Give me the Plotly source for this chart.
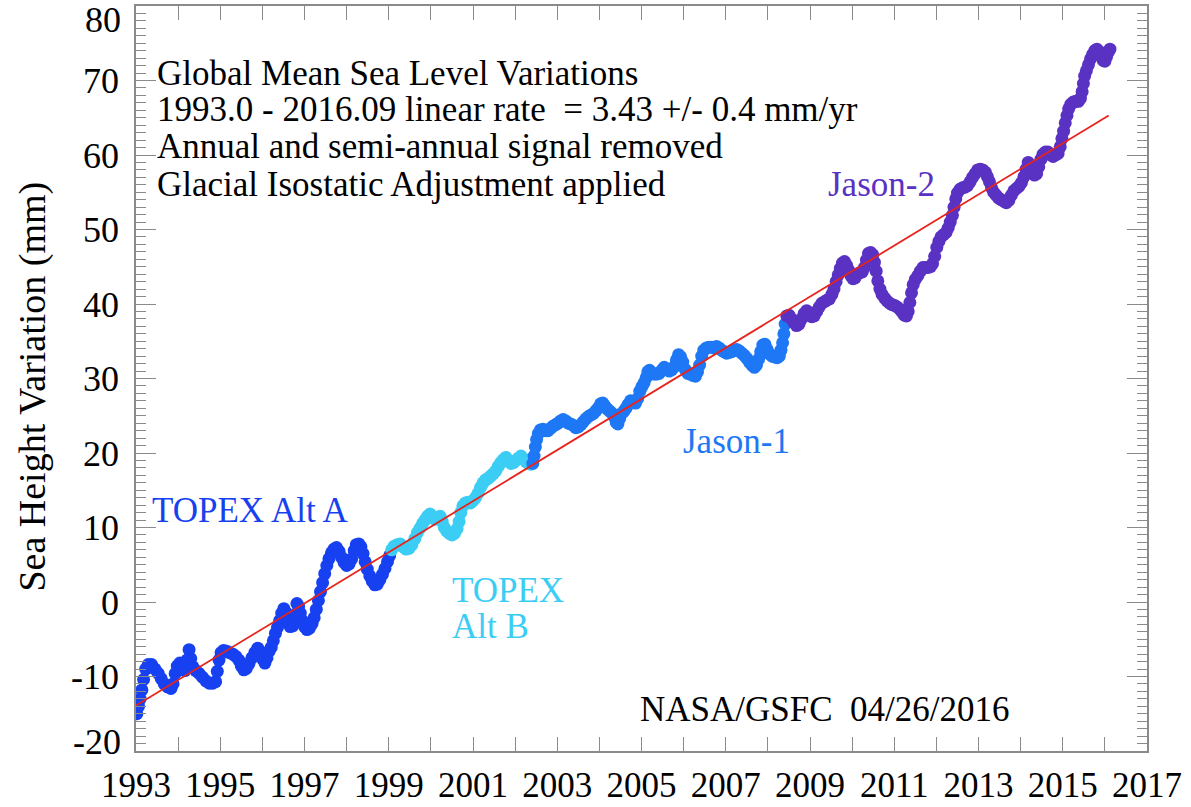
import plotly.graph_objects as go

# --- TOPEX Alt A (year, mm) ---
topex_a_year = [1993.02, 1993.06, 1993.10, 1993.14, 1993.18, 1993.23, 1993.29, 1993.37, 1993.45, 1993.53,
                1993.60, 1993.67, 1993.75, 1993.83, 1993.88, 1993.93, 1993.98, 1994.04, 1994.10, 1994.16,
                1994.21, 1994.26, 1994.30, 1994.35, 1994.42, 1994.50, 1994.58, 1994.66, 1994.74, 1994.82,
                1994.89, 1994.93, 1994.97, 1995.02, 1995.08, 1995.15, 1995.22, 1995.30, 1995.37, 1995.44,
                1995.50, 1995.56, 1995.62, 1995.68, 1995.75, 1995.82, 1995.89, 1995.95, 1996.00, 1996.06,
                1996.11, 1996.16, 1996.21, 1996.26, 1996.31, 1996.36, 1996.41, 1996.46, 1996.51, 1996.56,
                1996.61, 1996.66, 1996.72, 1996.77, 1996.82, 1996.86, 1996.90, 1996.95, 1997.00, 1997.06,
                1997.12, 1997.18, 1997.23, 1997.28, 1997.33, 1997.38, 1997.43, 1997.48, 1997.53, 1997.58,
                1997.64, 1997.70, 1997.76, 1997.82, 1997.88, 1997.94, 1998.00, 1998.06, 1998.12, 1998.18,
                1998.23, 1998.29, 1998.34, 1998.39, 1998.44, 1998.49, 1998.55, 1998.61, 1998.67, 1998.73,
                1998.79, 1998.85, 1998.91, 1998.97, 1999.02]
topex_a_mm = [-15.0, -14.0, -13.0, -11.8, -10.4, -9.0, -8.4, -8.4, -9.0, -9.6,
              -10.3, -11.0, -11.4, -11.6, -11.0, -9.6, -8.6, -8.2, -8.3, -9.2,
              -7.8, -6.4, -7.6, -8.7, -9.2, -9.6, -10.1, -10.6, -10.9, -10.9,
              -10.7, -9.3, -7.8, -6.8, -6.5, -6.6, -6.8, -7.0, -7.3, -7.8,
              -8.6, -9.1, -8.9, -8.3, -7.5, -6.8, -6.2, -6.8, -7.6, -8.2,
              -7.5, -6.6, -6.1, -5.2, -4.2, -3.4, -2.5, -1.5, -0.9, -1.4,
              -2.6, -3.3, -3.2, -1.7, -0.2, -0.6, -1.5, -2.5, -3.3, -3.7,
              -3.5, -2.9, -2.1, -1.0, 0.2, 1.4, 2.6, 3.8, 4.9, 5.8,
              6.6, 7.1, 7.3, 6.8, 6.0, 5.3, 4.9, 5.1, 5.8, 6.9,
              7.7, 7.8, 7.4, 6.5, 5.4, 4.4, 3.5, 2.8, 2.3, 2.4,
              3.0, 3.7, 4.5, 5.4, 6.2]

# --- TOPEX Alt B ---
topex_b_year = [1999.07, 1999.13, 1999.20, 1999.27, 1999.34, 1999.41, 1999.48, 1999.55, 1999.62, 1999.68,
                1999.74, 1999.80, 1999.86, 1999.92, 1999.98, 2000.04, 2000.10, 2000.16, 2000.22, 2000.27,
                2000.32, 2000.38, 2000.44, 2000.50, 2000.56, 2000.62, 2000.67, 2000.71, 2000.76, 2000.82,
                2000.88, 2000.94, 2001.00, 2001.06, 2001.12, 2001.18, 2001.24, 2001.30, 2001.36, 2001.42,
                2001.48, 2001.54, 2001.60, 2001.66, 2001.72, 2001.78, 2001.84, 2001.90, 2001.96, 2002.02,
                2002.08, 2002.14, 2002.20, 2002.26, 2002.32, 2002.37]
topex_b_mm = [7.0, 7.5, 7.7, 7.8, 7.4, 7.1, 7.2, 7.7, 8.5, 9.3,
              9.9, 10.5, 11.0, 11.5, 11.8, 11.5, 11.1, 11.3, 11.5, 10.8,
              10.0, 9.5, 9.2, 9.0, 9.2, 9.8, 10.8, 12.0, 12.9, 13.3,
              13.4, 13.3, 13.6, 14.0, 14.6, 15.4, 16.0, 16.4, 16.6, 16.9,
              17.2, 17.6, 18.2, 18.7, 19.1, 19.4, 19.0, 18.6, 18.7, 19.0,
              19.3, 19.6, 19.2, 18.8, 18.6, 18.5]

# --- Jason-1 ---
jason1_year = [2002.42, 2002.45, 2002.48, 2002.51, 2002.55, 2002.60, 2002.66, 2002.72, 2002.78, 2002.84,
               2002.90, 2002.96, 2003.02, 2003.08, 2003.14, 2003.20, 2003.26, 2003.32, 2003.38, 2003.44,
               2003.50, 2003.56, 2003.62, 2003.68, 2003.74, 2003.80, 2003.86, 2003.92, 2003.98, 2004.03,
               2004.08, 2004.13, 2004.19, 2004.25, 2004.31, 2004.36, 2004.40, 2004.44, 2004.48, 2004.53,
               2004.58, 2004.63, 2004.68, 2004.74, 2004.80, 2004.86, 2004.91, 2004.96, 2005.01, 2005.06,
               2005.11, 2005.15, 2005.19, 2005.24, 2005.30, 2005.36, 2005.42, 2005.48, 2005.54, 2005.60,
               2005.66, 2005.72, 2005.78, 2005.83, 2005.88, 2005.93, 2005.98, 2006.04, 2006.10, 2006.16,
               2006.22, 2006.28, 2006.33, 2006.38, 2006.43, 2006.48, 2006.54, 2006.60, 2006.66, 2006.72,
               2006.78, 2006.84, 2006.90, 2006.96, 2007.02, 2007.08, 2007.14, 2007.20, 2007.26, 2007.32,
               2007.38, 2007.44, 2007.50, 2007.56, 2007.62, 2007.68, 2007.73, 2007.78, 2007.83, 2007.88,
               2007.93, 2007.98, 2008.04, 2008.10, 2008.16, 2008.22, 2008.27, 2008.31, 2008.35, 2008.38,
               2008.41]
jason1_mm = [18.6, 19.6, 20.8, 21.8, 22.6, 23.1, 23.2, 23.0, 23.0, 23.3,
             23.6, 23.8, 24.0, 24.3, 24.5, 24.3, 24.0, 23.9, 23.7, 23.4,
             23.5, 23.8, 24.2, 24.6, 24.9, 25.1, 25.3, 25.7, 26.1, 26.6,
             26.7, 26.3, 25.9, 25.6, 25.3, 24.8, 24.1, 23.9, 24.6, 25.3,
             25.6, 26.0, 26.5, 27.0, 26.8, 26.7, 27.3, 28.3, 28.9, 29.4,
             30.1, 30.9, 31.1, 30.8, 30.6, 30.6, 30.7, 31.1, 31.5, 31.2,
             31.0, 31.2, 31.6, 32.5, 33.2, 32.9, 32.2, 31.2, 30.7, 30.6,
             30.4, 30.3, 30.9, 31.8, 33.0, 33.8, 34.1, 34.2, 34.2, 34.1,
             34.3, 34.1, 33.8, 33.6, 33.4, 33.5, 33.6, 33.8, 33.9, 33.7,
             33.4, 33.1, 32.7, 32.2, 31.8, 31.5, 31.8, 32.6, 33.6, 34.5,
             34.6, 33.9, 33.3, 33.0, 32.9, 32.8, 33.0, 33.8, 34.8, 36.0,
             37.3]

# --- Jason-2 ---
jason2_year = [2008.45, 2008.50, 2008.56, 2008.62, 2008.68, 2008.74, 2008.80, 2008.86, 2008.92, 2008.98,
               2009.04, 2009.10, 2009.16, 2009.22, 2009.28, 2009.34, 2009.40, 2009.46, 2009.52, 2009.57,
               2009.62, 2009.67, 2009.72, 2009.77, 2009.82, 2009.87, 2009.92, 2009.97, 2010.02, 2010.07,
               2010.12, 2010.18, 2010.24, 2010.29, 2010.34, 2010.39, 2010.44, 2010.49, 2010.53, 2010.57,
               2010.61, 2010.66, 2010.71, 2010.77, 2010.83, 2010.89, 2010.95, 2011.01, 2011.07, 2011.13,
               2011.19, 2011.24, 2011.29, 2011.33, 2011.37, 2011.41, 2011.45, 2011.50, 2011.56, 2011.62,
               2011.68, 2011.74, 2011.80, 2011.86, 2011.91, 2011.96, 2012.01, 2012.06, 2012.11, 2012.17,
               2012.23, 2012.28, 2012.33, 2012.38, 2012.42, 2012.46, 2012.50, 2012.56, 2012.62, 2012.68,
               2012.74, 2012.80, 2012.86, 2012.92, 2012.98, 2013.04, 2013.10, 2013.16, 2013.21, 2013.26,
               2013.31, 2013.36, 2013.42, 2013.48, 2013.54, 2013.60, 2013.66, 2013.72, 2013.78, 2013.84,
               2013.90, 2013.96, 2014.02, 2014.08, 2014.13, 2014.18, 2014.23, 2014.28, 2014.33, 2014.38,
               2014.43, 2014.48, 2014.53, 2014.59, 2014.65, 2014.71, 2014.77, 2014.83, 2014.89, 2014.94,
               2014.98, 2015.02, 2015.06, 2015.10, 2015.14, 2015.19, 2015.25, 2015.31, 2015.37, 2015.42,
               2015.46, 2015.49, 2015.52, 2015.56, 2015.61, 2015.66, 2015.71, 2015.76, 2015.81, 2015.86,
               2015.91, 2015.96, 2016.00, 2016.04, 2016.08, 2016.12]
jason2_mm = [38.4, 38.5, 38.0, 37.5, 37.1, 37.3, 38.0, 38.7, 39.1, 38.8,
             38.3, 38.4, 39.0, 39.6, 40.1, 40.3, 40.5, 40.7, 41.3, 42.0,
             43.0, 43.9, 44.8, 45.5, 45.7, 45.2, 44.5, 43.8, 43.4, 43.5,
             44.0, 44.2, 44.3, 44.9, 45.9, 46.8, 46.9, 46.6, 45.6, 44.4,
             43.1, 42.0, 41.3, 40.8, 40.4, 40.1, 39.9, 39.8, 39.6, 39.3,
             38.9, 38.5, 38.4, 39.0, 40.2, 41.5, 42.6, 43.3, 43.8, 44.4,
             44.9, 44.9, 44.9, 45.0, 45.4, 46.4, 47.6, 48.4, 49.0, 49.3,
             49.6, 50.2, 51.0, 51.9, 53.0, 54.1, 54.9, 55.4, 55.6, 55.7,
             55.9, 56.4, 57.0, 57.5, 58.0, 58.1, 58.0, 57.7, 57.1, 56.4,
             55.6, 55.0, 54.6, 54.2, 54.0, 53.8, 53.6, 53.9, 54.6, 55.2,
             55.5, 55.8, 56.3, 57.1, 58.1, 59.0, 58.6, 57.9, 57.3, 57.5,
             58.4, 59.4, 60.1, 60.4, 60.4, 60.0, 59.8, 60.0, 60.2, 61.1,
             62.2, 63.2, 64.3, 65.3, 66.2, 66.8, 67.1, 67.2, 67.2, 67.6,
             68.5, 69.6, 70.6, 71.3, 72.1, 72.9, 73.5, 74.0, 74.2, 73.9,
             73.3, 72.7, 72.6, 73.2, 73.8, 74.2]

# Linear trend fitted over 1993.0 - 2016.09
trend_years = [1993.0, 2016.09]
trend_rate = 3.43        # mm/yr
trend_at_start = -13.9   # mm at 1993.0

# Axis ticks
x_tick_years = list(range(1993, 2018))
y_tick_values = [-10, 0, 10, 20, 30, 40, 50, 60, 70]

SERIF = "Liberation Serif, Times New Roman, serif"
C_TOPEX_A = "#1741F0"
C_TOPEX_B = "#3CCDF5"
C_JASON1 = "#1E78F5"
C_JASON2 = "#5A32C3"
C_TREND = "#E8231C"
C_FRAME = "#8A8A8A"

fig = go.Figure()

for xs, ys, col, name in [
    (topex_a_year, topex_a_mm, C_TOPEX_A, "TOPEX Alt A"),
    (topex_b_year, topex_b_mm, C_TOPEX_B, "TOPEX Alt B"),
    (jason1_year, jason1_mm, C_JASON1, "Jason-1"),
    (jason2_year, jason2_mm, C_JASON2, "Jason-2"),
]:
    fig.add_trace(go.Scatter(
        x=xs, y=ys, mode="markers", name=name,
        marker=dict(size=13, color=col, line=dict(width=0)),
        showlegend=False, hoverinfo="x+y",
    ))

trend_mm = [trend_at_start + trend_rate * (t - trend_years[0]) for t in trend_years]
fig.add_trace(go.Scatter(
    x=trend_years, y=trend_mm, mode="lines",
    line=dict(color=C_TREND, width=1.8), showlegend=False, hoverinfo="skip",
))

x_tick_text = [str(y) if (y - 1993) % 2 == 0 else "" for y in x_tick_years]
y_tick_text = [str(v) for v in y_tick_values]

fig.update_xaxes(
    range=[1993, 2017], tickmode="array", tickvals=x_tick_years, ticktext=x_tick_text,
    ticks="inside", ticklen=14, tickwidth=1, tickcolor=C_FRAME,
    showline=True, linecolor=C_FRAME, linewidth=1.5, mirror="allticks",
    showgrid=False, zeroline=False, automargin=False,
    tickfont=dict(family=SERIF, size=35, color="black"),
    ticklabelstandoff=2,
)
fig.update_yaxes(
    range=[-20, 80], tickmode="array", tickvals=y_tick_values, ticktext=y_tick_text,
    ticks="inside", ticklen=20, tickwidth=1, tickcolor=C_FRAME,
    minor=dict(dtick=1, ticks="inside", ticklen=10, tickwidth=1, tickcolor=C_FRAME, showgrid=False),
    showline=True, linecolor=C_FRAME, linewidth=1.5, mirror="allticks",
    showgrid=False, zeroline=False, automargin=False,
    tickfont=dict(family=SERIF, size=36, color="black"),
    ticklabelstandoff=8,
)

annotations = []

def label(text, x, y, color="black", size=35, box_h=None):
    ann = dict(
        text=text, x=x, y=y, xref="x", yref="y", xanchor="left", yanchor="middle",
        showarrow=False, font=dict(family=SERIF, size=size, color=color),
    )
    if box_h:
        ann["height"] = box_h
    annotations.append(ann)

label("Global Mean Sea Level Variations", 1993.45, 71.0)
label("1993.0 - 2016.09 linear rate \u00a0= 3.43 +/- 0.4 mm/yr", 1993.45, 66.1)
label("Annual and semi-annual signal removed", 1993.45, 61.1)
label("Glacial Isostatic Adjustment applied", 1993.45, 56.1)
label("TOPEX Alt A", 1993.33, 12.3, C_TOPEX_A)
label("TOPEX", 2000.45, 1.6, C_TOPEX_B, box_h=34)
label("Alt B", 2000.45, -3.2, C_TOPEX_B, box_h=34)
label("Jason-1", 2005.93, 21.5, C_JASON1)
label("Jason-2", 2009.38, 56.0, C_JASON2)
label("NASA/GSFC \u00a004/26/2016", 2004.92, -14.4)

# end labels of the y scale, kept inside the frame height
for txt, yp in [("80", 0.981), ("-20", 0.012)]:
    annotations.append(dict(
        text=txt, x=-0.013, y=yp, xref="paper", yref="paper", xanchor="right", yanchor="middle",
        showarrow=False, font=dict(family=SERIF, size=36, color="black"),
    ))

annotations.append(dict(
    text="Sea Height Variation (mm)", x=-0.102, y=0.489, xref="paper", yref="paper",
    xanchor="center", yanchor="middle", textangle=-90, showarrow=False,
    font=dict(family=SERIF, size=38, color="black"),
))

fig.update_layout(
    width=1191, height=807,
    margin=dict(l=136, r=44, t=6, b=56),
    paper_bgcolor="white", plot_bgcolor="white",
    annotations=annotations,
)

fig.write_html("out.html")
